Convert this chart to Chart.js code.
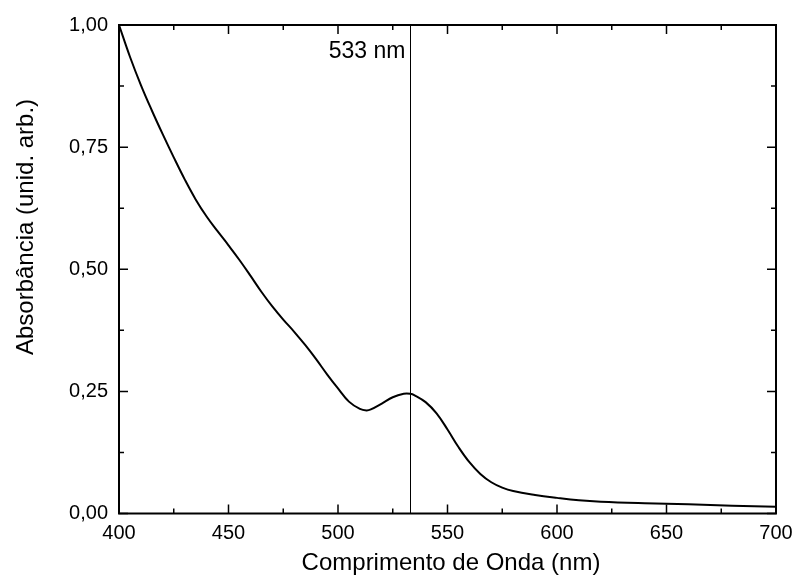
<!DOCTYPE html>
<html>
<head>
<meta charset="utf-8">
<script src="https://cdn.jsdelivr.net/npm/chart.js@4.4.1/dist/chart.umd.min.js"></script>
<style>
  html, body { margin: 0; padding: 0; background: #fff; }
  #wrap { width: 792px; height: 584px; }
</style>
</head>
<body>
<div id="wrap"><canvas id="chart1" width="792" height="584"></canvas></div>
<script>
    // espectro de absorção
    const wavelengths = [400, 405, 410, 415, 420, 425, 430, 435, 440, 445, 450, 455, 460, 465, 470,
        475, 480, 485, 490, 495, 500, 505, 510, 513, 515, 520, 525, 530, 533, 535, 540, 545, 550,
        555, 560, 565, 570, 575, 580, 590, 600, 610, 620, 640, 660, 680, 700];
    const absorbance = [1.000, 0.935, 0.877, 0.825, 0.776, 0.729, 0.684, 0.643, 0.608, 0.578, 0.549,
        0.519, 0.487, 0.454, 0.424, 0.397, 0.372, 0.345, 0.316, 0.285, 0.256, 0.229, 0.214, 0.211,
        0.213, 0.225, 0.238, 0.245, 0.245, 0.242, 0.228, 0.205, 0.172, 0.136, 0.105, 0.081, 0.064,
        0.053, 0.046, 0.038, 0.032, 0.027, 0.024, 0.021, 0.019, 0.016, 0.014];
    const xTicks = [400, 450, 500, 550, 600, 650, 700];
    const yTicks = [0, 0.25, 0.5, 0.75, 1];
    const markerNm = 533;
    const markerLabel = '533 nm';
    const xTitle = 'Comprimento de Onda (nm)';
    const yTitle = 'Absorbância (unid. arb.)';

    const FONT = '"Liberation Sans", Arial, sans-serif';
    const fmt = v => v.toFixed(2).replace('.', ',');

    const frame = {
        id: 'frame',
        afterDraw(chart) {
            const { ctx, chartArea: a, scales: { x, y } } = chart;
            ctx.save();
            ctx.strokeStyle = '#000';

            // linha vertical em 533 nm
            const mx = Math.round(x.getPixelForValue(markerNm)) + 0.5;
            ctx.lineWidth = 1;
            ctx.beginPath();
            ctx.moveTo(mx, a.top);
            ctx.lineTo(mx, a.bottom);
            ctx.stroke();

            // moldura
            ctx.lineWidth = 2;
            ctx.strokeRect(a.left, a.top, a.right - a.left, a.bottom - a.top);

            // marcas para dentro, nos quatro lados
            ctx.lineWidth = 1.5;
            ctx.beginPath();
            for (let v = 400; v <= 700; v += 25) {
                const len = v % 50 === 0 ? 9 : 5;
                const px = x.getPixelForValue(v);
                ctx.moveTo(px, a.bottom); ctx.lineTo(px, a.bottom - len);
                ctx.moveTo(px, a.top); ctx.lineTo(px, a.top + len);
            }
            for (let i = 0; i <= 8; i++) {
                const v = i * 0.125;
                const len = i % 2 === 0 ? 9 : 5;
                const py = y.getPixelForValue(v);
                ctx.moveTo(a.left, py); ctx.lineTo(a.left + len, py);
                ctx.moveTo(a.right, py); ctx.lineTo(a.right - len, py);
            }
            ctx.stroke();

            // textos
            ctx.fillStyle = '#000';
            ctx.font = '23px ' + FONT;
            ctx.textAlign = 'right';
            ctx.textBaseline = 'middle';
            ctx.fillText(markerLabel, mx - 5, 52);

            ctx.font = '24px ' + FONT;
            ctx.textAlign = 'center';
            ctx.fillText(xTitle, 451, 563);

            ctx.translate(26, 227);
            ctx.rotate(-Math.PI / 2);
            ctx.fillText(yTitle, 0, 0);
            ctx.restore();
        }
    };

    new Chart(document.getElementById('chart1'), {
        type: 'line',
        data: {
            datasets: [{
                data: wavelengths.map((w, i) => ({ x: w, y: absorbance[i] })),
                borderColor: '#000',
                borderWidth: 2,
                pointRadius: 0,
                tension: 0.4,
                fill: false
            }]
        },
        options: {
            responsive: false,
            animation: false,
            devicePixelRatio: 1,
            layout: { padding: { top: 25, right: 16, left: 0, bottom: 0 } },
            plugins: { legend: { display: false }, tooltip: { enabled: false } },
            scales: {
                x: {
                    type: 'linear', min: 400, max: 700,
                    afterBuildTicks: s => { s.ticks = xTicks.map(v => ({ value: v })); },
                    afterFit: s => { s.height = 70.5; s.paddingLeft = 0; s.paddingRight = 0; },
                    grid: { display: false, drawTicks: false },
                    border: { display: false },
                    ticks: { color: '#000', padding: 8, maxRotation: 0, font: { family: FONT, size: 20 } }
                },
                y: {
                    type: 'linear', min: 0, max: 1,
                    afterBuildTicks: s => { s.ticks = yTicks.map(v => ({ value: v })); },
                    afterFit: s => { s.width = 119; s.paddingTop = 0; s.paddingBottom = 0; },
                    grid: { display: false, drawTicks: false },
                    border: { display: false },
                    ticks: { color: '#000', padding: 11, callback: v => fmt(v), font: { family: FONT, size: 20 } }
                }
            }
        },
        plugins: [frame]
    });
</script>
</body>
</html>
